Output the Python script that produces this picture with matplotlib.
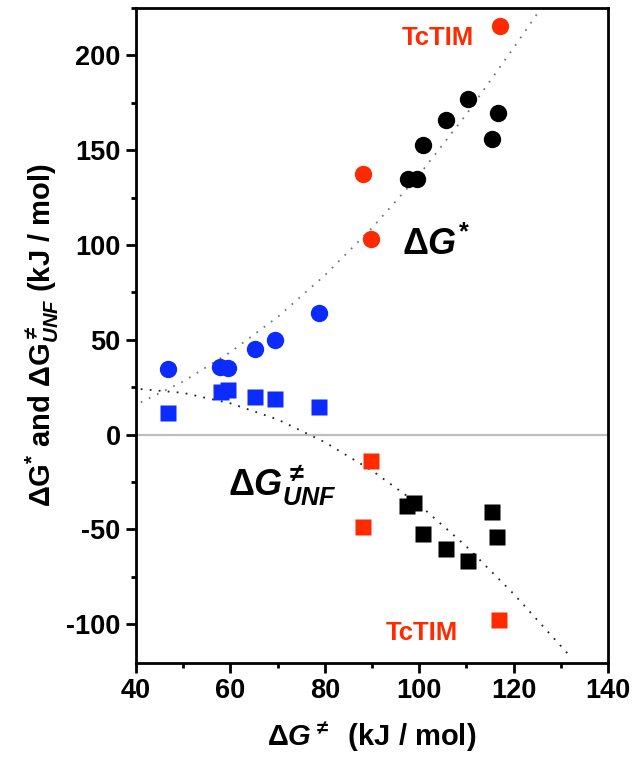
import matplotlib
matplotlib.use("Agg")
import matplotlib.pyplot as plt
from matplotlib.ticker import MultipleLocator

plt.rcParams["font.family"] = ["Liberation Sans", "DejaVu Sans"]
plt.rcParams["font.weight"] = "bold"
plt.rcParams["axes.unicode_minus"] = False
plt.rcParams["mathtext.fontset"] = "custom"
plt.rcParams["mathtext.rm"] = "Liberation Sans:bold"
plt.rcParams["mathtext.it"] = "Liberation Sans:bold:italic"
plt.rcParams["mathtext.bf"] = "Liberation Sans:bold"

# ---- data ----
# dG* (circles)
blue_circ_x = [46.8, 57.8, 59.5, 65.2, 69.4, 78.8]
blue_circ_y = [34.8, 35.4, 35.0, 45.4, 50.0, 63.9]
red_circ_x = [88.1, 89.8, 117.1]
red_circ_y = [137.7, 103.4, 215.5]
black_circ_x = [97.6, 99.5, 100.8, 105.7, 110.3, 116.7, 115.4]
black_circ_y = [134.6, 134.6, 152.5, 166.0, 176.8, 169.4, 155.7]

# dG_UNF (squares)
blue_sq_x = [46.8, 58.0, 59.5, 65.2, 69.4, 78.8]
blue_sq_y = [11.6, 22.7, 23.7, 20.0, 19.0, 14.8]
red_sq_x = [89.8, 88.1, 117.0]
red_sq_y = [-13.7, -49.0, -98.0]
black_sq_x = [97.4, 98.9, 100.8, 105.7, 110.3, 115.4, 116.5]
black_sq_y = [-37.5, -35.9, -52.2, -60.2, -66.5, -40.6, -53.8]

# dotted guide curves
upper_x = [41, 50, 60, 70, 80, 90, 100, 110, 120, 125]
upper_y = [17, 28, 43.5, 62, 84, 109, 137, 169, 204, 222]
lower_x = [41, 50, 60, 70, 80, 90, 100, 110, 120, 126, 132]
lower_y = [24, 22, 16.5, 8, -4, -19, -37, -59, -84, -100.5, -117]

BLUE = "#0b2bff"
RED = "#ff2a00"

fig = plt.figure(figsize=(6.34, 7.65), dpi=100)
ax = fig.add_axes([0.2145, 0.1333, 0.7445, 0.8562])

ax.axhline(0, color="#bdbdbd", lw=1.6, zorder=1)
ax.plot(upper_x, upper_y, color="#777777", lw=1.3, ls=(0, (1, 4)), zorder=2)
ax.plot(lower_x, lower_y, color="#222222", lw=1.3, ls=(0, (1, 4)), zorder=2)

ms_c, ms_s = 12.5, 11.5
ax.plot(blue_circ_x, blue_circ_y, "o", color=BLUE, ms=ms_c, mec="none", zorder=3)
ax.plot(red_circ_x, red_circ_y, "o", color=RED, ms=ms_c, mec="none", zorder=3)
ax.plot(black_circ_x, black_circ_y, "o", color="black", ms=ms_c, mec="none", zorder=3)
ax.plot(blue_sq_x, blue_sq_y, "s", color=BLUE, ms=ms_s, mec="none", zorder=3)
ax.plot(red_sq_x, red_sq_y, "s", color=RED, ms=ms_s, mec="none", zorder=3)
ax.plot(black_sq_x, black_sq_y, "s", color="black", ms=ms_s, mec="none", zorder=3)

ax.text(104, 209, "TcTIM", color=RED, fontsize=18.5, fontweight="bold",
        ha="center", va="center")
ax.text(100.6, -104.5, "TcTIM", color=RED, fontsize=18.5, fontweight="bold",
        ha="center", va="center")
ax.text(96.4, 94.5, r"$\mathit{\Delta G}^{*}$", fontsize=26, ha="left",
        va="baseline")
ax.text(59.5, -32.2, r"$\mathrm{\Delta}\mathit{G}^{\neq}_{\mathit{UNF}}$",
        fontsize=26, ha="left", va="baseline")

ax.set_xlim(40, 140)
ax.set_ylim(-120.5, 225)
ax.xaxis.set_major_locator(MultipleLocator(20))
ax.xaxis.set_minor_locator(MultipleLocator(10))
ax.yaxis.set_major_locator(MultipleLocator(50))
ax.yaxis.set_minor_locator(MultipleLocator(25))
ax.tick_params(which="major", direction="out", length=7, width=2,
               labelsize=19.5, pad=4)
ax.tick_params(which="minor", direction="out", length=3.5, width=2)
for lab in ax.get_xticklabels() + ax.get_yticklabels():
    lab.set_fontweight("bold")
for sp in ax.spines.values():
    sp.set_linewidth(2)

ax.set_xlabel(r"$\mathrm{\Delta}\mathit{G}^{\neq}$  (kJ / mol)", fontsize=21,
              fontweight="bold", labelpad=11)
ax.set_ylabel(r"$\mathrm{\Delta G}^{*}$ and $\mathrm{\Delta G}^{\neq}_{\mathit{UNF}}$ (kJ / mol)",
              fontsize=21, fontweight="bold", labelpad=4)

fig.savefig("out.png", dpi=100)
